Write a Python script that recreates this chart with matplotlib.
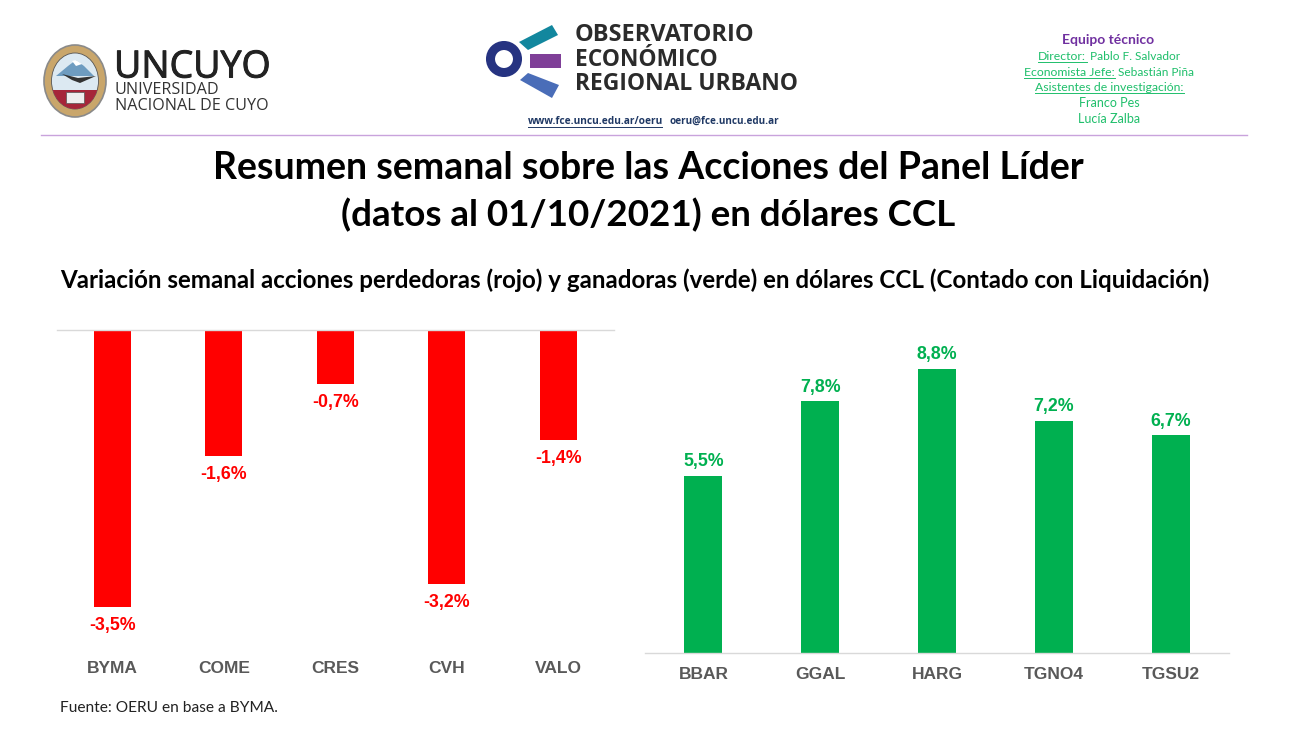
# plot.py
# Weekly summary slide: header logos, titles and two bar panels (losers / winners)

import matplotlib
matplotlib.use("Agg")
import matplotlib.pyplot as plt
import matplotlib.patheffects as pe
from matplotlib.patches import Circle, Ellipse, Polygon, Rectangle

W, H = 1296, 729

losers = ["BYMA", "COME", "CRES", "CVH", "VALO"]
loser_values = [-3.5, -1.59, -0.68, -3.21, -1.39]
winners = ["BBAR", "GGAL", "HARG", "TGNO4", "TGSU2"]
winner_values = [5.48, 7.8, 8.8, 7.19, 6.74]

RED = "#FF0000"
GREEN = "#00B050"
TICK_GREY = "#595959"
TEAM_GREEN = "#1FBF6B"
PURPLE = "#7030A0"
LINE = "#C9A3DC"


def pix_axes(fig, left, top, right, bottom):
    # axes placed from pixel edges measured from the top left corner
    return fig.add_axes([left / W, 1 - bottom / H, (right - left) / W, (bottom - top) / H])


def fmt(v):
    return f"{v:.1f}%".replace(".", ",")


def bar_panel(ax, labels, values, color, width, ymin, ymax):
    xs = range(len(labels))
    ax.bar(xs, values, width=width, color=color)
    ax.set_xlim(-0.5, len(labels) - 0.5)
    ax.set_ylim(ymin, ymax)
    ax.set_yticks([])
    for s in ["left", "right", "top", "bottom"]:
        ax.spines[s].set_visible(False)
    ax.patch.set_alpha(0)
    ax.axhline(0, color="#D9D9D9", lw=1.0, zorder=3, clip_on=False)
    for x, v in zip(xs, values):
        off = -7 if v < 0 else 4
        ax.annotate(fmt(v), (x, v), xytext=(0, off), textcoords="offset points",
                    ha="center", va="top" if v < 0 else "bottom", color=color,
                    fontsize=12.8, fontweight="bold", family="Liberation Sans")


def header(bg):
    # UNCUYO seal
    bg.add_patch(Ellipse((75, 81), 62, 72, fc="#C9A66B", ec="#8A8A8A", lw=1.2))
    inner = Ellipse((75, 81), 47, 56, fc="#DCE9F2", ec="#555555", lw=0.6)
    bg.add_patch(inner)
    red = Rectangle((50, 90), 50, 20, fc="#A62639", ec="none")
    bg.add_patch(red)
    red.set_clip_path(inner)
    bg.add_patch(Polygon([[56, 76], [68, 66], [76, 60], [84, 66], [94, 76]], fc="#6E9CC0", ec="none"))
    bg.add_patch(Polygon([[72, 61], [76, 60], [82, 64], [76, 66]], fc="white", ec="none"))
    bg.add_patch(Polygon([[62, 74], [78, 78], [96, 76], [80, 83], [72, 80]], fc="#333333", ec="none"))
    bg.add_patch(Rectangle((66, 92), 18, 11, fc="#EEEEEE", ec="#555555", lw=0.5))
    heavy = [pe.withStroke(linewidth=0.7, foreground="#222222")]
    bg.text(114, 67.5, "UNCUYO", fontsize=27, family="Open Sans", color="#222222", va="center", ha="left",
            path_effects=heavy)
    bg.text(115, 90, "UNIVERSIDAD", fontsize=11.6, family="Open Sans", color="#333333", va="center", ha="left")
    bg.text(115, 106, "NACIONAL DE CUYO", fontsize=11.6, family="Open Sans", color="#333333", va="center", ha="left")

    # OERU mark
    bg.add_patch(Circle((504, 59), 13.5, fc="white", ec="#263381", lw=6.5))
    bg.add_patch(Polygon([[519, 42], [552, 25], [558, 35], [528, 50]], fc="#12879E", ec="none"))
    bg.add_patch(Polygon([[530, 54], [561, 54], [561, 68], [530, 68]], fc="#7F3F98", ec="none"))
    bg.add_patch(Polygon([[520, 80], [528, 73], [559, 85], [552, 98]], fc="#4A6DB8", ec="none"))
    for y, txt, fs in [(35, "OBSERVATORIO", 17), (60, "ECONÓMICO", 16.4), (84, "REGIONAL URBANO", 16.5)]:
        bg.text(575, y, txt, fontsize=fs, fontweight="bold", family="Open Sans", color="#2B2B2B",
                va="center", ha="left")
    bg.text(528, 121, "www.fce.uncu.edu.ar/oeru", fontsize=7.3, fontweight="bold", family="Open Sans",
            color="#1F3864", va="center", ha="left")
    bg.plot([528, 662], [126.5, 126.5], color="#1F3864", lw=0.7)
    bg.text(669, 121, "oeru@fce.uncu.edu.ar", fontsize=7.1, fontweight="bold", family="Open Sans",
            color="#1F3864", va="center", ha="left")

    # team block
    bg.text(1108, 39.5, "Equipo técnico", fontsize=10, fontweight="bold", family="Lato", color=PURPLE,
            ha="center", va="center")
    team = [(56, "Director:", " Pablo F. Salvador", 1038, 1087),
            (72, "Economista Jefe:", " Sebastián Piña", 1024, 1115),
            (87, "Asistentes de investigación:", "", 1035, 1184)]
    for y, a, b, x0, x1 in team:
        bg.text(x0, y, a, fontsize=8.8, family="Lato", color=TEAM_GREEN, ha="left", va="center")
        if b:
            bg.text(x1, y, b, fontsize=8.6, family="Lato", color=TEAM_GREEN, ha="left", va="center")
        bg.plot([x0, x1], [y + 6, y + 6], color=TEAM_GREEN, lw=0.7)
    bg.text(1109, 103, "Franco Pes", fontsize=9, family="Lato", color=TEAM_GREEN, ha="center", va="center")
    bg.text(1109, 119, "Lucía Zalba", fontsize=9, family="Lato", color=TEAM_GREEN, ha="center", va="center")

    bg.plot([41, 1247], [134.5, 134.5], color=LINE, lw=1.0)


def main():
    fig = plt.figure(figsize=(W / 100, H / 100), dpi=100, facecolor="white")

    bg = fig.add_axes([0, 0, 1, 1])
    bg.set_xlim(0, W)
    bg.set_ylim(H, 0)
    bg.axis("off")
    header(bg)

    bg.text(648, 168, "Resumen semanal sobre las Acciones del Panel Líder", fontsize=27, fontweight="bold",
            family="Lato", color="black", ha="center", va="center")
    bg.text(648, 215, "(datos al 01/10/2021) en dólares CCL", fontsize=26.5, fontweight="bold",
            family="Lato", color="black", ha="center", va="center")
    bg.text(635, 280, "Variación semanal acciones perdedoras (rojo) y ganadoras (verde) en dólares CCL (Contado con Liquidación)",
            fontsize=17.4, fontweight="bold", family="Lato", color="black", ha="center", va="center")
    bg.text(60, 708.5, "Fuente: OERU en base a BYMA.", fontsize=11.2, family="Lato", color="#222222",
            ha="left", va="center")

    # left panel: zero line on top, right panel: zero line at the bottom
    ax1 = pix_axes(fig, 56.5, 330, 614, 652)
    bar_panel(ax1, losers, loser_values, RED, 0.33, -4.07, 0)
    ax2 = pix_axes(fig, 645, 330, 1229, 653)
    bar_panel(ax2, winners, winner_values, GREEN, 0.325, 0, 10.0)

    for ax, labels in [(ax1, losers), (ax2, winners)]:
        ax.set_xticks(range(len(labels)))
        ax.set_xticklabels(labels, fontsize=12.5, fontweight="bold", family="Liberation Sans", color=TICK_GREY)
        ax.tick_params(axis="x", length=0)
    ax1.tick_params(axis="x", pad=6.6)
    ax2.tick_params(axis="x", pad=10.3)

    fig.savefig("out.png", dpi=100)
    plt.close(fig)


if __name__ == "__main__":
    main()
